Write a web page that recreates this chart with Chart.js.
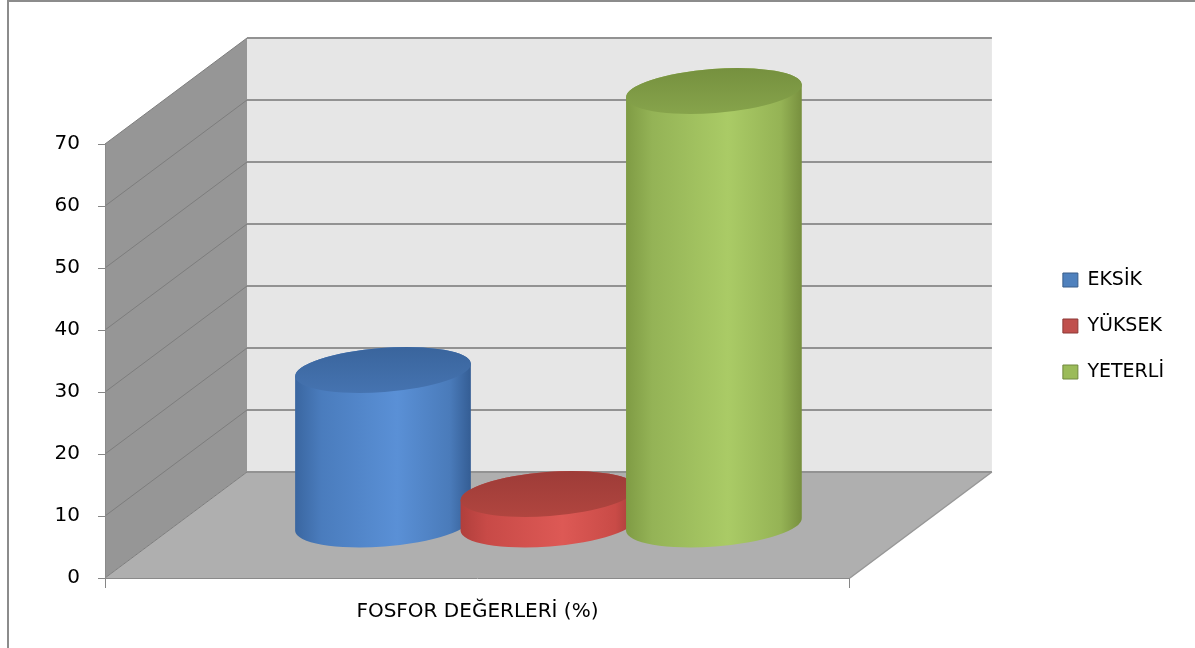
<!DOCTYPE html>
<html>
<head>
<meta charset="utf-8">
<script src="https://cdn.jsdelivr.net/npm/chart.js@4.4.1/dist/chart.umd.min.js"></script>
<style>
  html, body { margin: 0; padding: 0; background: #ffffff; overflow: hidden; }
  canvas { display: block; }
</style>
</head>
<body>
<canvas id="chart" width="1195" height="648"></canvas>
<script>
// ---- data ----
const categories = ['FOSFOR DEĞERLERİ (%)'];
const seriesNames = ['EKSİK', 'YÜKSEK', 'YETERLİ'];
const eksikValues = [25];
const yuksekValues = [5];
const yeterliValues = [70];
const yAxisMin = 0;
const yAxisMax = 70;
const yAxisStep = 10;

// ---- look ----
const FONT = 'DejaVu Sans';
const DEPTH_X = 142;     // oblique depth offset of the 3D box
const DEPTH_Y = -106;
const ELLIPSE_RY = 22;   // vertical radius of cylinder caps
const TILT = -0.075;     // slight rotation of the caps

const seriesStyles = [
  { fill: '#4f81bd', edge: '#385d8a',
    side: ['#3a66a0', '#4a7cbd', '#5a90d6', '#4a7bba', '#345d94'],
    top: ['#3a659d', '#4573b0'] },
  { fill: '#c0504d', edge: '#8c3836',
    side: ['#b03f3c', '#c84a47', '#dd5955', '#c94b47', '#a23b38'],
    top: ['#9e3c38', '#b0453f'] },
  { fill: '#9bbb59', edge: '#71893f',
    side: ['#7f9b44', '#94b356', '#aacb66', '#95b355', '#778f3e'],
    top: ['#76913f', '#86a34b'] }
];

const seriesValues = [eksikValues, yuksekValues, yeterliValues];

function polygon(ctx, pts, fill) {
  ctx.beginPath();
  ctx.moveTo(pts[0][0], pts[0][1]);
  for (let i = 1; i < pts.length; i++) ctx.lineTo(pts[i][0], pts[i][1]);
  ctx.closePath();
  ctx.fillStyle = fill;
  ctx.fill();
}

function drawCylinder(ctx, cx, topY, botY, rx, ry, st) {
  ctx.save();
  const g = ctx.createLinearGradient(cx - rx, 0, cx + rx, 0);
  g.addColorStop(0, st.side[0]);
  g.addColorStop(0.15, st.side[1]);
  g.addColorStop(0.58, st.side[2]);
  g.addColorStop(0.88, st.side[3]);
  g.addColorStop(1, st.side[4]);
  ctx.beginPath();
  ctx.ellipse(cx, topY, rx, ry, TILT, Math.PI, 2 * Math.PI);
  ctx.ellipse(cx, botY, rx, ry, TILT, 0, Math.PI);
  ctx.closePath();
  ctx.fillStyle = g;
  ctx.fill();

  const tg = ctx.createLinearGradient(0, topY - ry, 0, topY + ry);
  tg.addColorStop(0, st.top[0]);
  tg.addColorStop(1, st.top[1]);
  ctx.beginPath();
  ctx.ellipse(cx, topY, rx, ry, TILT, 0, 2 * Math.PI);
  ctx.fillStyle = tg;
  ctx.fill();
  ctx.restore();
}

// walls, floor and grid of the 3D box, then the cylinders
const box3d = {
  id: 'box3d',
  beforeDraw(chart) {
    const { ctx, chartArea: a, scales: { y } } = chart;
    const L = a.left, R = a.right, T = a.top, B = a.bottom;
    ctx.save();
    // outer frame
    ctx.strokeStyle = '#8c8c8c';
    ctx.lineWidth = 2;
    ctx.beginPath();
    ctx.moveTo(8, chart.height);
    ctx.lineTo(8, 1);
    ctx.lineTo(chart.width, 1);
    ctx.stroke();

    // left wall, back wall, floor
    polygon(ctx, [[L, B], [L, T], [L + DEPTH_X, T + DEPTH_Y], [L + DEPTH_X, B + DEPTH_Y]], '#969696');
    polygon(ctx, [[L + DEPTH_X, T + DEPTH_Y], [R + DEPTH_X, T + DEPTH_Y], [R + DEPTH_X, B + DEPTH_Y], [L + DEPTH_X, B + DEPTH_Y]], '#e6e6e6');
    polygon(ctx, [[L, B], [R, B], [R + DEPTH_X, B + DEPTH_Y], [L + DEPTH_X, B + DEPTH_Y]], '#afafaf');

    // floor right edge
    ctx.strokeStyle = '#979797';
    ctx.lineWidth = 1.5;
    ctx.beginPath();
    ctx.moveTo(R, B);
    ctx.lineTo(R + DEPTH_X, B + DEPTH_Y);
    ctx.stroke();

    // grid lines: diagonal on the side wall, horizontal on the back wall
    y.ticks.forEach(t => {
      const py = y.getPixelForValue(t.value);
      ctx.strokeStyle = '#7d7d7d';
      ctx.lineWidth = 1;
      ctx.beginPath();
      ctx.moveTo(L, py);
      ctx.lineTo(L + DEPTH_X, py + DEPTH_Y);
      ctx.stroke();
      ctx.strokeStyle = '#929292';
      ctx.lineWidth = 2;
      ctx.beginPath();
      ctx.moveTo(L + DEPTH_X, py + DEPTH_Y);
      ctx.lineTo(R + DEPTH_X, py + DEPTH_Y);
      ctx.stroke();
    });
    ctx.restore();
  },
  beforeDatasetsDraw(chart) {
    const ctx = chart.ctx;
    chart.data.datasets.forEach((ds, i) => {
      if (!chart.isDatasetVisible(i)) return;
      const meta = chart.getDatasetMeta(i);
      meta.data.forEach(bar => {
        const p = bar.getProps(['x', 'y', 'base', 'width'], true);
        drawCylinder(ctx, p.x + DEPTH_X / 2, p.y + DEPTH_Y / 2, p.base + DEPTH_Y / 2,
          p.width / 2, ELLIPSE_RY, seriesStyles[i]);
      });
    });
    return false;
  }
};

const datasets = seriesNames.map((name, i) => ({
  label: name,
  data: seriesValues[i],
  backgroundColor: seriesStyles[i].fill,
  borderColor: seriesStyles[i].edge,
  borderWidth: 1,
  categoryPercentage: 0.6664,
  barPercentage: 1.065
}));

new Chart(document.getElementById('chart'), {
  type: 'bar',
  data: { labels: categories, datasets },
  plugins: [box3d],
  options: {
    responsive: false,
    animation: false,
    events: [],
    layout: { padding: { top: 4, left: 45, right: 21, bottom: 0 } },
    plugins: {
      tooltip: { enabled: false },
      legend: {
        position: 'right',
        labels: {
          color: '#000000',
          font: { family: FONT, size: 19 },
          boxWidth: 15,
          boxHeight: 14,
          padding: 27
        }
      }
    },
    scales: {
      x: {
        position: 'bottom',
        afterFit(s) { s.height = 70; },
        grid: { display: true, offset: true, drawOnChartArea: false, drawTicks: true, tickLength: 10, color: '#868686' },
        border: { display: true, color: '#8a8a8a', width: 1 },
        ticks: { color: '#000000', font: { family: FONT, size: 20 }, padding: 12 }
      },
      y: {
        position: 'left',
        min: yAxisMin,
        max: yAxisMax,
        afterFit(s) { s.width = 60; },
        grid: { display: true, drawOnChartArea: false, drawTicks: true, tickLength: 7, color: '#868686' },
        border: { display: true, color: '#8a8a8a', width: 1 },
        ticks: { stepSize: yAxisStep, color: '#000000', font: { family: FONT, size: 20 }, padding: 18 }
      },
      topSpace: {
        type: 'linear',
        position: 'top',
        afterFit(s) { s.height = 140; },
        grid: { display: false },
        border: { display: false },
        ticks: { display: false }
      },
      rightSpace: {
        type: 'linear',
        position: 'right',
        afterFit(s) { s.width = 186; },
        grid: { display: false },
        border: { display: false },
        ticks: { display: false }
      }
    }
  }
});
</script>
</body>
</html>
